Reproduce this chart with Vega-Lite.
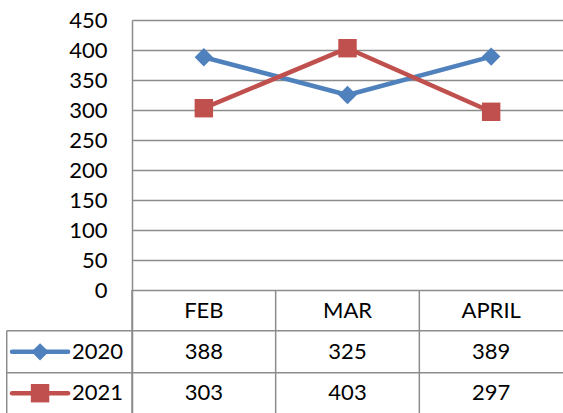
{
  "$schema": "https://vega.github.io/schema/vega-lite/v6.json",
  "width": 431,
  "height": 393,
  "autosize": {"type": "none"},
  "padding": {"left": 132, "top": 20, "right": 0, "bottom": 0},
  "background": "white",
  "config": {"view": {"stroke": null}, "font": "Lato"},
  "data": {"values": [
    {"month": "FEB", "series": "2020", "value": 388},
    {"month": "MAR", "series": "2020", "value": 325},
    {"month": "APRIL", "series": "2020", "value": 389},
    {"month": "FEB", "series": "2021", "value": 303},
    {"month": "MAR", "series": "2021", "value": 403},
    {"month": "APRIL", "series": "2021", "value": 297}
  ]},
  "layer": [
    {
      "mark": {"type": "line", "strokeWidth": 4.5, "strokeCap": "round", "strokeJoin": "round"},
      "encoding": {
        "x": {"field": "month", "type": "nominal", "bandPosition": 0.5,
              "scale": {"type": "band", "domain": ["FEB", "MAR", "APRIL"], "paddingInner": 0, "paddingOuter": 0},
              "axis": null},
        "y": {"field": "value", "type": "quantitative",
              "scale": {"domain": [-205, 450], "nice": false, "zero": false},
              "axis": {"values": [0, 50, 100, 150, 200, 250, 300, 350, 400, 450], "title": null,
                       "grid": true, "gridColor": "#8C8C8C", "gridWidth": 1.5,
                       "domainColor": "#8C8C8C", "domainWidth": 1.5,
                       "ticks": false, "tickSize": 0, "labelPadding": 25,
                       "labelFont": "Lato", "labelFontSize": 22, "labelColor": "black"}},
        "color": {"field": "series", "type": "nominal",
                  "scale": {"domain": ["2020", "2021"], "range": ["#4F81BD", "#C0504D"]}, "legend": null}
      }
    },
    {
      "data": {"values": [{}]},
      "mark": {"type": "rule", "stroke": "#8C8C8C", "strokeWidth": 1.5},
      "encoding": {
        "x": {"datum": "FEB", "type": "nominal", "bandPosition": -0.872},
        "x2": {"datum": "APRIL", "bandPosition": 1},
        "y": {"datum": -68, "type": "quantitative"}
      }
    },
    {
      "data": {"values": [{}]},
      "mark": {"type": "rule", "stroke": "#8C8C8C", "strokeWidth": 1.5},
      "encoding": {
        "x": {"datum": "FEB", "type": "nominal", "bandPosition": -0.872},
        "x2": {"datum": "APRIL", "bandPosition": 1},
        "y": {"datum": -138, "type": "quantitative"}
      }
    },
    {
      "data": {"values": [{}]},
      "mark": {"type": "rule", "stroke": "#8C8C8C", "strokeWidth": 1.5},
      "encoding": {
        "x": {"datum": "FEB", "type": "nominal", "bandPosition": -0.872},
        "y": {"datum": -68, "type": "quantitative"},
        "y2": {"datum": -205}
      }
    },
    {
      "transform": [{"filter": "datum.series == '2020'"}],
      "mark": {"type": "rule", "stroke": "#8C8C8C", "strokeWidth": 1.5},
      "encoding": {
        "x": {"field": "month", "type": "nominal", "bandPosition": 0},
        "y": {"datum": 0, "type": "quantitative"},
        "y2": {"datum": -205}
      }
    },
    {
      "mark": {"type": "point", "filled": true, "opacity": 1, "size": 340},
      "encoding": {
        "x": {"field": "month", "type": "nominal", "bandPosition": 0.5},
        "y": {"field": "value", "type": "quantitative"},
        "color": {"field": "series", "type": "nominal"},
        "shape": {"field": "series", "type": "nominal",
                  "scale": {"domain": ["2020", "2021"], "range": ["diamond", "square"]}, "legend": null}
      }
    },
    {
      "transform": [{"filter": "datum.series == '2020'"}],
      "mark": {"type": "text", "fontSize": 22, "font": "Lato", "baseline": "middle", "color": "black"},
      "encoding": {
        "x": {"field": "month", "type": "nominal", "bandPosition": 0.5},
        "y": {"datum": -35, "type": "quantitative"},
        "text": {"field": "month"}
      }
    },
    {
      "transform": [{"filter": "datum.series == '2020'"}],
      "encoding": {"y": {"datum": -103, "type": "quantitative"}},
      "layer": [
        {
          "mark": {"type": "text", "fontSize": 22, "font": "Lato", "baseline": "middle", "color": "black"},
          "encoding": {
            "x": {"field": "month", "type": "nominal", "bandPosition": 0.5},
            "text": {"field": "value"}
          }
        },
        {
          "transform": [{"filter": "datum.month == 'FEB'"}],
          "mark": {"type": "rule", "strokeWidth": 4.5, "strokeCap": "round"},
          "encoding": {
            "x": {"datum": "FEB", "type": "nominal", "bandPosition": -0.835},
            "x2": {"datum": "FEB", "bandPosition": -0.445},
            "color": {"field": "series", "type": "nominal"}
          }
        },
        {
          "transform": [{"filter": "datum.month == 'FEB'"}],
          "mark": {"type": "point", "filled": true, "opacity": 1, "size": 300},
          "encoding": {
            "x": {"datum": "FEB", "type": "nominal", "bandPosition": -0.64},
            "color": {"field": "series", "type": "nominal"},
            "shape": {"field": "series", "type": "nominal"}
          }
        },
        {
          "transform": [{"filter": "datum.month == 'FEB'"}],
          "mark": {"type": "text", "fontSize": 22, "font": "Lato", "align": "left", "baseline": "middle", "color": "black"},
          "encoding": {
            "x": {"datum": "FEB", "type": "nominal", "bandPosition": -0.418},
            "text": {"field": "series"}
          }
        }
      ]
    },
    {
      "transform": [{"filter": "datum.series == '2021'"}],
      "encoding": {"y": {"datum": -172, "type": "quantitative"}},
      "layer": [
        {
          "mark": {"type": "text", "fontSize": 22, "font": "Lato", "baseline": "middle", "color": "black"},
          "encoding": {
            "x": {"field": "month", "type": "nominal", "bandPosition": 0.5},
            "text": {"field": "value"}
          }
        },
        {
          "transform": [{"filter": "datum.month == 'FEB'"}],
          "mark": {"type": "rule", "strokeWidth": 4.5, "strokeCap": "round"},
          "encoding": {
            "x": {"datum": "FEB", "type": "nominal", "bandPosition": -0.835},
            "x2": {"datum": "FEB", "bandPosition": -0.445},
            "color": {"field": "series", "type": "nominal"}
          }
        },
        {
          "transform": [{"filter": "datum.month == 'FEB'"}],
          "mark": {"type": "point", "filled": true, "opacity": 1, "size": 340},
          "encoding": {
            "x": {"datum": "FEB", "type": "nominal", "bandPosition": -0.64},
            "color": {"field": "series", "type": "nominal"},
            "shape": {"field": "series", "type": "nominal"}
          }
        },
        {
          "transform": [{"filter": "datum.month == 'FEB'"}],
          "mark": {"type": "text", "fontSize": 22, "font": "Lato", "align": "left", "baseline": "middle", "color": "black"},
          "encoding": {
            "x": {"datum": "FEB", "type": "nominal", "bandPosition": -0.418},
            "text": {"field": "series"}
          }
        }
      ]
    }
  ]
}
